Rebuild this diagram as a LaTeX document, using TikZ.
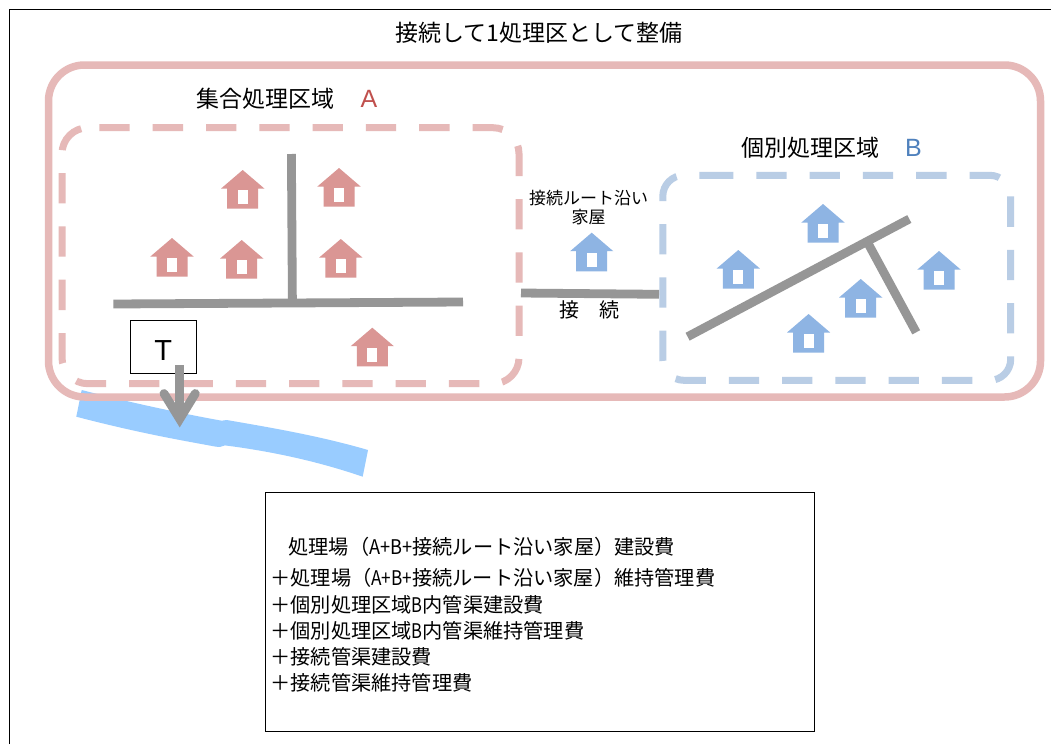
\documentclass[tikz,border=0pt]{standalone}
\usepackage{fontspec}
\usepackage{graphicx}
\setmainfont{Noto Sans CJK JP}
\newfontfamily\latinfont{Liberation Sans}
\definecolor{pinkline}{HTML}{E6B9B8}
\definecolor{blueline}{HTML}{B9CDE5}
\definecolor{redhouse}{HTML}{DA9694}
\definecolor{bluehouse}{HTML}{8EB4E3}
\definecolor{pipe}{HTML}{969696}
\definecolor{river}{HTML}{99CCFF}
\definecolor{letterA}{HTML}{C0504D}
\definecolor{letterB}{HTML}{4F81BD}
\newcommand{\fs}[1]{\fontsize{#1}{#1}\selectfont}
\newcommand{\nar}[2][.82]{\scalebox{#1}[1]{#2}}
\tikzset{
  x=1pt,y=-1pt,
  houseicon/.pic={
    \fill[#1] (0,0) -- (21.6,18.5) -- (15.5,18.5) -- (15.5,38.7) -- (-15.5,38.7) -- (-15.5,18.5) -- (-21.6,18.5) -- cycle;
    \fill[white] (-4.9,20) rectangle (4.9,34);
  },
  outerzone/.style={draw=pinkline,line width=7.5pt,rounded corners=36pt},
  dashzone/.style={line width=7pt,dash pattern=on 30.3pt off 23pt},
  pipeline/.style={draw=pipe,line width=8.8pt},
  label/.style={inner sep=0pt,outer sep=0pt,anchor=base west,text=black},
  labelc/.style={inner sep=0pt,outer sep=0pt,anchor=base,text=black},
  plainbox/.style={draw=black,line width=0.9pt,fill=white,inner sep=0pt},
  costline/.style={label,font=\fs{20.2}},
}
\begin{document}
\begin{tikzpicture}
\useasboundingbox (0,0) rectangle (1051,744);
\fill[white] (0,0) rectangle (1051,744);
% frame
\draw[black,line width=1pt] (9,744) -- (9,9) -- (1051,9);
% river
\fill[river] (81.7,390) -- (76.3,416.7) .. controls (140,433.3) and (180,440) .. (216,446.7)
  -- (220,446.9) -- (225,445.4)
  .. controls (273.3,451.5) and (320,462) .. (362.7,476.7) -- (368,450)
  .. controls (320,436) and (273,428) .. (226.7,420) -- (221.7,420.7)
  .. controls (173.3,412) and (120,400) .. cycle;
% zones
\draw[outerzone] (48.5,65) -- (1040.5,65) -- (1040.5,397) -- (48.5,397) -- cycle;
\draw[dashzone,rounded corners=26pt,draw=pinkline] (99.4,127.7) -- (519,127.7) -- (519,383.7) -- (62,383.7) -- (62,127.7) -- (99.4,127.7);
\draw[dashzone,rounded corners=21pt,draw=blueline] (703,175.3) -- (1010.7,175.3) -- (1010.7,380.3) -- (662.8,380.3) -- (662.8,175.3) -- (703,175.3);
% pipes
\coordinate (pa1) at (113.3,304);
\coordinate (pa2) at (463,302);
\coordinate (pa3) at (291.4,154);
\coordinate (pa4) at (292.4,303);
\draw[pipeline] (pa1) -- (pa2);
\draw[pipeline] (pa3) -- (pa4);
\coordinate (pc1) at (521,293);
\coordinate (pc2) at (659,294.3);
\draw[pipeline] (pc1) -- (pc2);
\coordinate (pb1) at (687.6,336.7);
\coordinate (pb2) at (909.3,219);
\coordinate (pb3) at (868,243.3);
\coordinate (pb4) at (916.2,332.3);
\draw[pipeline] (pb1) -- (pb2);
\draw[pipeline] (pb3) -- (pb4);
% houses
\pic at (242.7,170) {houseicon=redhouse};
\pic at (339,168) {houseicon=redhouse};
\pic at (172,238) {houseicon=redhouse};
\pic at (241.7,240) {houseicon=redhouse};
\pic at (340.8,239) {houseicon=redhouse};
\pic at (372.3,327.7) {houseicon=redhouse};
\pic at (591.7,232.7) {houseicon=bluehouse};
\pic at (823,204) {houseicon=bluehouse};
\pic at (738.3,250) {houseicon=bluehouse};
\pic at (860.7,279) {houseicon=bluehouse};
\pic at (939,251) {houseicon=bluehouse};
\pic at (808.6,314) {houseicon=bluehouse};
% tank
\node[plainbox,minimum width=66.7pt,minimum height=52.7pt] (tank) at (163.3,346.7) {};
\node[labelc,font=\fs{29}\latinfont] (tanklabel) at (163.3,360) {T};
\coordinate (arrowstart) at (179.7,365);
\coordinate (arrowtip) at (179.7,419);
\draw[pipeline] (arrowstart) -- (arrowtip);
\coordinate (barbl) at (164,393.5);
\coordinate (barbr) at (195.3,393.5);
\draw[pipeline,line cap=round,line join=miter] (barbl) -- (arrowtip) -- (barbr);
% titles
\node[labelc,font=\fs{23}] (title) at (539,41) {接続して1処理区として整備};
\node[label,font=\fs{23}] (zonea) at (196.7,107) {集合処理区域\hspace{26pt}\textcolor{letterA}{\fs{25}\latinfont A}};
\node[label,font=\fs{23}] (zoneb) at (741,156) {個別処理区域\hspace{26pt}\textcolor{letterB}{\fs{25}\latinfont B}};
\node[labelc,font=\fs{17}] (route1) at (588.5,204) {接続ルート沿い};
\node[labelc,font=\fs{17}] (route2) at (588.5,223) {家屋};
\node[labelc,font=\fs{20}] (conn) at (589,317) {接　続};
% cost box
\node[plainbox,minimum width=549pt,minimum height=239.4pt] (cost) at (540.2,612) {};
\node[costline] (c1) at (288.5,554) {処理場（\nar[.9]{A+B+}接続ルート沿い家屋）建設費};
\node[costline] (c2) at (270.5,585) {＋処理場（\nar[.85]{A+B+}接続ルート沿い家屋）維持管理費};
\node[costline] (c3) at (270.5,612.5) {＋個別処理区域\nar{B}内管渠建設費};
\node[costline] (c4) at (270.5,638) {＋個別処理区域\nar{B}内管渠維持管理費};
\node[costline] (c5) at (270.5,664) {＋接続管渠建設費};
\node[costline] (c6) at (270.5,690) {＋接続管渠維持管理費};
\end{tikzpicture}
\end{document}
